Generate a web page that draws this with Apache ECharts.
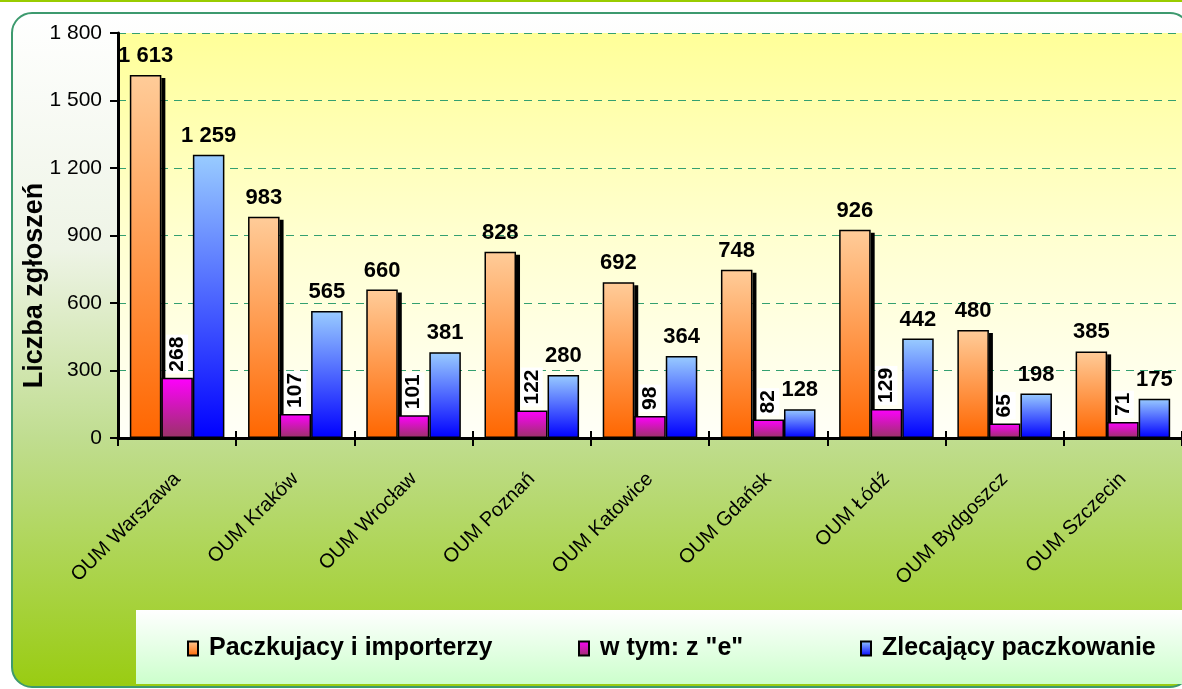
<!DOCTYPE html>
<html>
<head>
<meta charset="utf-8">
<script src="https://cdn.jsdelivr.net/npm/echarts@6/dist/echarts.min.js"></script>
<style>
  html, body { margin: 0; padding: 0; background: #fff; }
  #chart { width: 1182px; height: 689px; }
</style>
</head>
<body>
<div id="chart"></div>
<script>
const categories = ['OUM Warszawa', 'OUM Kraków', 'OUM Wrocław', 'OUM Poznań', 'OUM Katowice',
  'OUM Gdańsk', 'OUM Łódź', 'OUM Bydgoszcz', 'OUM Szczecin']
const seriesNames = ['Paczkujacy i importerzy', 'w tym: z "e"', 'Zlecający paczkowanie']
const packers = [1613, 983, 660, 828, 692, 748, 926, 480, 385]
const electronic = [268, 107, 101, 122, 98, 82, 129, 65, 71]
const ordering = [1259, 565, 381, 280, 364, 128, 442, 198, 175]
const yTicks = { min: 0, max: 1800, interval: 300 }

const fmt = v => String(v).replace(/\B(?=(\d{3})+(?!\d))/g, ' ')
const grad = (top, bottom) => new echarts.graphic.LinearGradient(0, 0, 0, 1, [
  { offset: 0, color: top },
  { offset: 1, color: bottom }
])
const FONT = 'Liberation Sans, Arial, sans-serif'
const CAT_GAP = 0.2  // barCategoryGap as fraction

const chart = echarts.init(document.getElementById('chart'))

const labelTop = {
  show: true,
  position: 'top',
  distance: 8,
  formatter: p => fmt(p.value),
  color: '#000',
  fontFamily: FONT,
  fontWeight: 'bold',
  fontSize: 22
}

const legendText = { color: '#000', fontFamily: FONT, fontWeight: 'bold', fontSize: 25, padding: [0, 0, 0, 6] }
const legendAt = (name, left) => ({
  data: [name],
  left,
  top: 636,
  padding: 0,
  itemWidth: 10,
  itemHeight: 14,
  icon: 'rect',
  textStyle: legendText,
  selectedMode: false
})

// black drop shadow on the right side of the first (orange) bar of each group
function renderShadow(params, api) {
  const i = api.value(0)
  const v = api.value(1)
  const top = api.coord([i, v])
  const base = api.coord([i, 0])
  const band = api.size([1, 0])[0]
  const barW = band * (1 - CAT_GAP) / 3
  const right = top[0] - band * (1 - CAT_GAP) / 2 + barW
  return {
    type: 'rect',
    shape: { x: right, y: top[1] + 3, width: 4, height: base[1] - top[1] - 3 },
    style: { fill: '#000' }
  }
}

const option = {
  animation: false,
  graphic: [
    {
      type: 'rect', z: -10, silent: true,
      shape: { x: 0, y: 0, width: 1182, height: 2 },
      style: { fill: '#99cc00' }
    },
    {
      type: 'rect', z: -10, silent: true,
      shape: { x: 12, y: 13, width: 1178, height: 674, r: 20 },
      style: {
        fill: new echarts.graphic.LinearGradient(0, 0, 0, 1, [
          { offset: 0, color: '#ffffff' },
          { offset: 0.35, color: '#eef4e6' },
          { offset: 0.63, color: '#c0dd90' },
          { offset: 1, color: '#99cc11' }
        ]),
        stroke: '#3d9a6e',
        lineWidth: 2
      }
    },
    {
      type: 'rect', z: -9, silent: true,
      shape: { x: 136, y: 610, width: 1060, height: 74 },
      style: { fill: grad('#ffffff', '#ccffcc') }
    }
  ],
  legend: [
    legendAt(seriesNames[0], 187),
    legendAt(seriesNames[1], 578),
    legendAt(seriesNames[2], 860)
  ],
  grid: {
    left: 118,
    top: 33,
    width: 1066,
    height: 405,
    show: true,
    borderWidth: 0,
    backgroundColor: new echarts.graphic.LinearGradient(0, 0, 0, 1, [
      { offset: 0, color: '#ffff99' },
      { offset: 0.5, color: '#ffffd0' },
      { offset: 1, color: '#fffff8' }
    ])
  },
  xAxis: [
    {
      type: 'category',
      data: categories,
      axisLine: { lineStyle: { color: '#000', width: 3 } },
      axisTick: { show: true, length: 8, lineStyle: { color: '#000', width: 2 } },
      axisLabel: {
        rotate: 45,
        margin: 38,
        color: '#000',
        fontFamily: FONT,
        fontSize: 20
      }
    },
    {
      type: 'category',
      data: categories,
      position: 'bottom',
      axisLine: { show: false },
      axisTick: { show: true, inside: true, length: 7, lineStyle: { color: '#000', width: 2 } },
      axisLabel: { show: false }
    }
  ],
  yAxis: {
    type: 'value',
    min: yTicks.min,
    max: yTicks.max,
    interval: yTicks.interval,
    name: 'Liczba zgłoszeń',
    nameLocation: 'middle',
    nameRotate: 90,
    nameGap: 70,
    nameMoveOverlap: false,
    nameTextStyle: {
      color: '#000', fontFamily: FONT, fontWeight: 'bold', fontSize: 27,
      padding: [0, 100, 0, 0]
    },
    axisLine: { show: true, lineStyle: { color: '#000', width: 3 } },
    axisTick: { show: true, length: 8, lineStyle: { color: '#000', width: 2 } },
    axisLabel: {
      formatter: v => fmt(v),
      margin: 16,
      color: '#000',
      fontFamily: FONT,
      fontSize: 21
    },
    splitLine: { lineStyle: { color: '#33a070', type: [8, 6], width: 1 } }
  },
  series: [
    {
      type: 'custom',
      renderItem: renderShadow,
      data: packers.map((v, i) => [i, v]),
      silent: true
    },
    {
      name: seriesNames[0],
      type: 'bar',
      data: packers,
      barGap: '0%',
      barCategoryGap: (CAT_GAP * 100) + '%',
      itemStyle: {
        color: grad('#ffcc99', '#ff6600'),
        borderColor: '#000',
        borderWidth: 1.5
      },
      label: labelTop
    },
    {
      name: seriesNames[1],
      type: 'bar',
      data: electronic,
      itemStyle: {
        color: grad('#ff00ff', '#993366'),
        borderColor: '#000',
        borderWidth: 1.5
      },
      label: {
        show: true,
        position: 'top',
        distance: 4,
        rotate: 90,
        align: 'left',
        verticalAlign: 'middle',
        formatter: p => fmt(p.value),
        backgroundColor: '#fff',
        padding: [1, 2, 0, 2],
        color: '#000',
        fontFamily: FONT,
        fontWeight: 'bold',
        fontSize: 21
      }
    },
    {
      name: seriesNames[2],
      type: 'bar',
      data: ordering,
      itemStyle: {
        color: grad('#99ccff', '#0000ff'),
        borderColor: '#000',
        borderWidth: 1.5
      },
      label: labelTop
    }
  ]
}

chart.setOption(option)
</script>
</body>
</html>
